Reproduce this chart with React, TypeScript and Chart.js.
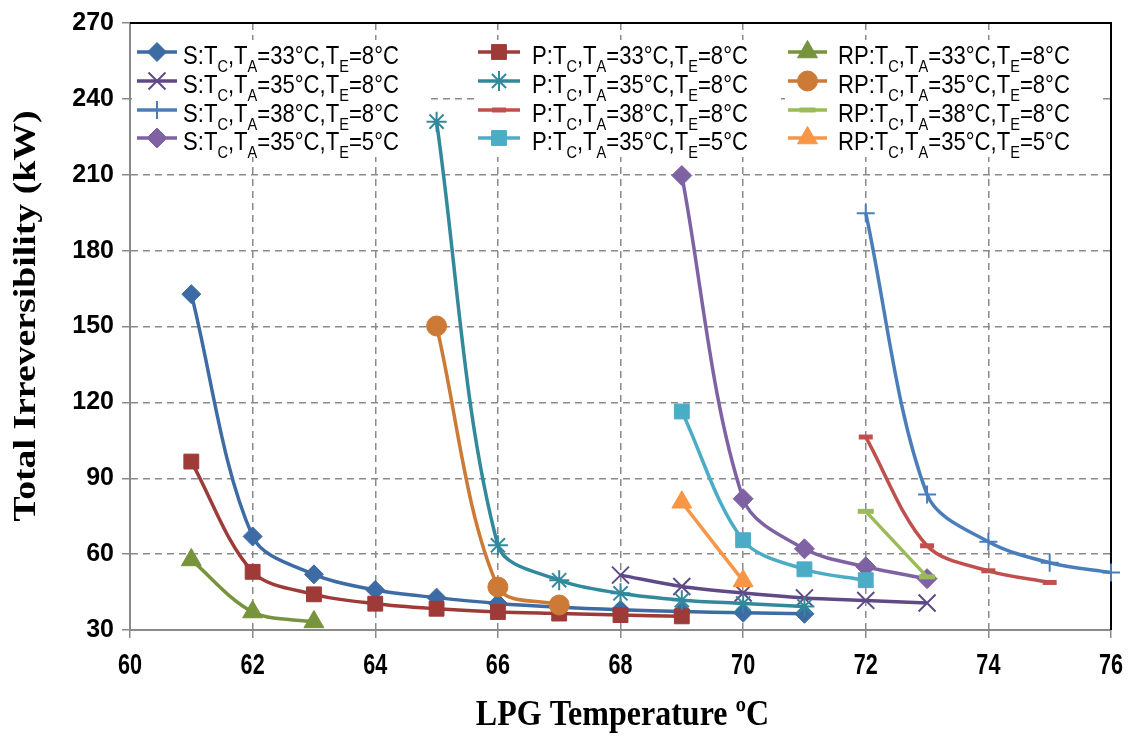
import React, { useEffect, useRef } from "react";
import { Chart, registerables } from "chart.js";
import { drawPoint } from "chart.js/helpers";

Chart.register(...registerables);

// ---------- data ----------
const X_TICKS = [60, 62, 64, 66, 68, 70, 72, 74, 76];
const Y_TICKS = [30, 60, 90, 120, 150, 180, 210, 240, 270];

const S33_X = [61, 62, 63, 64, 65, 66, 67, 68, 69, 70, 71];
const S33_Y = [162.8, 67, 52, 45.8, 42.8, 40.5, 39, 38, 37.3, 36.8, 36.4];
const S35_X = [68, 69, 70, 71, 72, 73];
const S35_Y = [51.7, 47.2, 44.6, 42.7, 41.7, 40.7];
const S38_X = [72, 73, 74, 75, 76];
const S38_Y = [194.8, 83.6, 64.9, 56.6, 52.7];
const S35E5_X = [69, 70, 71, 72, 73];
const S35E5_Y = [209.7, 81.9, 62.1, 55, 50.3];

const P33_X = [61, 62, 63, 64, 65, 66, 67, 68, 69];
const P33_Y = [96.6, 53, 44.1, 40.4, 38.4, 37.1, 36.5, 35.9, 35.4];
const P35_X = [65, 66, 67, 68, 69, 70, 71];
const P35_Y = [231, 63.5, 49.7, 44.5, 41.8, 40.5, 39.3];
const P38_X = [72, 73, 74, 75];
const P38_Y = [106.3, 63.3, 53.4, 48.8];
const P35E5_X = [69, 70, 71, 72];
const P35E5_Y = [116.4, 65.5, 54, 49.7];

const RP33_X = [61, 62, 63];
const RP33_Y = [57.7, 37.1, 33.2];
const RP35_X = [65, 66, 67];
const RP35_Y = [150.2, 47, 39.9];
const RP38_X = [72, 73];
const RP38_Y = [76.9, 51];
const RP35E5_X = [69, 70];
const RP35E5_Y = [80.5, 49.4];

const LABELS = [
  "S:T_C,T_A=33°C,T_E=8°C",
  "S:T_C,T_A=35°C,T_E=8°C",
  "S:T_C,T_A=38°C,T_E=8°C",
  "S:T_C,T_A=35°C,T_E=5°C",
  "P:T_C,T_A=33°C,T_E=8°C",
  "P:T_C,T_A=35°C,T_E=8°C",
  "P:T_C,T_A=38°C,T_E=8°C",
  "P:T_C,T_A=35°C,T_E=5°C",
  "RP:T_C,T_A=33°C,T_E=8°C",
  "RP:T_C,T_A=35°C,T_E=8°C",
  "RP:T_C,T_A=38°C,T_E=8°C",
  "RP:T_C,T_A=35°C,T_E=5°C",
];

const X_TITLE = "LPG Temperature ºC";
const Y_TITLE = "Total Irreversibility (kW)";

// ---------- styles ----------
type Style = { color: string; point: any; radius: number; pbw: number };
const STYLES: Style[] = [
  { color: "#3D6BA4", point: "rectRot", radius: 9.5, pbw: 1 },
  { color: "#604A86", point: "crossRot", radius: 12, pbw: 2 },
  { color: "#4A7EBB", point: "cross", radius: 9, pbw: 2 },
  { color: "#7F62A3", point: "rectRot", radius: 10, pbw: 1 },
  { color: "#9E3B39", point: "rect", radius: 10.5, pbw: 1 },
  { color: "#31899C", point: "star", radius: 10, pbw: 2 },
  { color: "#C0504D", point: "line", radius: 7, pbw: 5 },
  { color: "#4BACC6", point: "rect", radius: 10.5, pbw: 1 },
  { color: "#77933C", point: "triangle", radius: 11.5, pbw: 1 },
  { color: "#CC7A35", point: "circle", radius: 10, pbw: 1 },
  { color: "#9BBB59", point: "line", radius: 8, pbw: 5 },
  { color: "#F79646", point: "triangle", radius: 11.5, pbw: 1 },
];

const SERIES_X = [S33_X, S35_X, S38_X, S35E5_X, P33_X, P35_X, P38_X, P35E5_X, RP33_X, RP35_X, RP38_X, RP35E5_X];
const SERIES_Y = [S33_Y, S35_Y, S38_Y, S35E5_Y, P33_Y, P35_Y, P38_Y, P35E5_Y, RP33_Y, RP35_Y, RP38_Y, RP35E5_Y];

const SANS = '"Liberation Sans", Arial, sans-serif';
const SERIF = '"Liberation Serif", "Times New Roman", serif';
const GRID = "#8A8A8A";

function drawRich(ctx: CanvasRenderingContext2D, text: string, x: number, y: number, size: number, family: string, hs: number) {
  const parts: { t: string; sub: boolean }[] = [];
  let buf = "";
  for (let i = 0; i < text.length; i++) {
    if (text[i] === "_") {
      if (buf) parts.push({ t: buf, sub: false });
      buf = "";
      parts.push({ t: text[i + 1], sub: true });
      i++;
    } else buf += text[i];
  }
  if (buf) parts.push({ t: buf, sub: false });
  ctx.save();
  ctx.translate(x, y);
  ctx.scale(hs, 1);
  let cx = 0;
  ctx.textBaseline = "alphabetic";
  ctx.textAlign = "left";
  for (const p of parts) {
    const s = p.sub ? size * 0.66 : size;
    ctx.font = `${s}px ${family}`;
    ctx.fillText(p.t, cx, p.sub ? size * 0.3 : 0);
    cx += ctx.measureText(p.t).width;
  }
  ctx.restore();
}

function drawScaledText(ctx: CanvasRenderingContext2D, text: string, x: number, y: number, font: string, sx: number, sy: number, rot: number) {
  ctx.save();
  ctx.translate(x, y);
  if (rot) ctx.rotate(rot);
  ctx.scale(sx, sy);
  ctx.font = font;
  ctx.fillStyle = "#000";
  ctx.textAlign = "center";
  ctx.textBaseline = "middle";
  ctx.fillText(text, 0, 0);
  ctx.restore();
}

const framePlugin = {
  id: "frame",
  beforeDatasetsDraw(chart: any) {
    const { ctx, chartArea } = chart;
    const { left, right, top, bottom } = chartArea;
    ctx.save();
    ctx.strokeStyle = "#000";
    ctx.lineWidth = 2;
    ctx.beginPath();
    ctx.moveTo(left, top);
    ctx.lineTo(right, top);
    ctx.lineTo(right, bottom);
    ctx.stroke();
    ctx.restore();
  },
};

const textPlugin = {
  id: "axisText",
  afterDraw(chart: any) {
    const ctx: CanvasRenderingContext2D = chart.ctx;
    const xs = chart.scales.x;
    const area = chart.chartArea;
    // x tick labels (condensed)
    X_TICKS.forEach((v) => {
      drawScaledText(ctx, String(v), xs.getPixelForValue(v), 666, `bold 30px ${SANS}`, 0.72, 1, 0);
    });
    // x title
    drawScaledText(ctx, X_TITLE, (area.left + area.right) / 2 + 2, 716, `bold 33px ${SERIF}`, 0.97, 1.1, 0);
    // y title
    drawScaledText(ctx, Y_TITLE, 27, 316, `bold 32px ${SERIF}`, 1.18, 1, -Math.PI / 2);
  },
};

const legendPlugin = {
  id: "customLegend",
  afterDraw(chart: any) {
    const ctx: CanvasRenderingContext2D = chart.ctx;
    const cols = [
      { box: [132, 40, 426, 157], lx0: 137, lx1: 177, tx: 183 },
      { box: [474, 40, 781, 157], lx0: 478, lx1: 520, tx: 532 },
      { box: [785, 40, 1101, 157], lx0: 788, lx1: 827, tx: 838 },
    ];
    const rowY = [52, 81, 110, 138];
    ctx.save();
    cols.forEach((c, ci) => {
      ctx.fillStyle = "#fff";
      ctx.fillRect(c.box[0], c.box[1], c.box[2] - c.box[0], c.box[3] - c.box[1]);
      for (let r = 0; r < 4; r++) {
        const idx = ci * 4 + r;
        const st = STYLES[idx];
        const y = rowY[r];
        ctx.strokeStyle = st.color;
        ctx.lineWidth = 3.5;
        ctx.beginPath();
        ctx.moveTo(c.lx0, y);
        ctx.lineTo(c.lx1, y);
        ctx.stroke();
        ctx.fillStyle = st.color;
        ctx.strokeStyle = st.color;
        ctx.lineWidth = st.pbw;
        drawPoint(ctx, { pointStyle: st.point, radius: st.radius, borderWidth: st.pbw, rotation: 0 } as any, (c.lx0 + c.lx1) / 2, y);
        ctx.fillStyle = "#000";
        drawRich(ctx, LABELS[idx], c.tx, y + 12, 26, SANS, 0.85);
      }
    });
    ctx.restore();
  },
};

export default function App() {
  const ref = useRef<HTMLCanvasElement | null>(null);
  useEffect(() => {
    document.body.style.margin = "0";
    const canvas = ref.current!;
    const datasets = SERIES_X.map((xs, i) => {
      const st = STYLES[i];
      return {
        label: LABELS[i],
        data: xs.map((x, j) => ({ x, y: SERIES_Y[i][j] })),
        borderColor: st.color,
        backgroundColor: st.color,
        borderWidth: 3.5,
        pointStyle: st.point,
        pointRadius: st.radius,
        pointBorderWidth: st.pbw,
        pointBackgroundColor: st.color,
        pointBorderColor: st.color,
        tension: 0.33,
        fill: false,
        clip: false as any,
        order: -i,
      };
    });
    const chart = new Chart(canvas, {
      type: "line",
      data: { datasets },
      plugins: [framePlugin, textPlugin, legendPlugin],
      options: {
        animation: false,
        responsive: false,
        devicePixelRatio: 1,
        layout: { padding: { top: 21, right: 26, left: 0, bottom: 0 } },
        plugins: { legend: { display: false }, tooltip: { enabled: false } },
        scales: {
          x: {
            type: "linear",
            min: 60,
            max: 76,
            afterBuildTicks: (s: any) => {
              s.ticks = X_TICKS.map((v) => ({ value: v }));
            },
            afterFit: (s: any) => {
              s.height = 108;
            },
            ticks: { display: false },
            grid: { color: GRID, lineWidth: 1.5, tickLength: 8, tickColor: GRID, tickWidth: 1.5, tickBorderDash: [] },
            border: { display: true, color: GRID, width: 2, dash: [7, 5] },
          },
          y: {
            type: "linear",
            min: 30,
            max: 270,
            afterBuildTicks: (s: any) => {
              s.ticks = Y_TICKS.map((v) => ({ value: v }));
            },
            afterFit: (s: any) => {
              s.width = 130;
            },
            ticks: {
              color: "#000",
              padding: 8,
              autoSkip: false,
              font: { family: SANS, size: 25, weight: "bold" },
            },
            grid: { color: GRID, lineWidth: 1.5, tickLength: 8, tickColor: GRID, tickWidth: 1.5, tickBorderDash: [] },
            border: { display: true, color: GRID, width: 2, dash: [7, 5] },
          },
        },
      } as any,
    });
    return () => chart.destroy();
  }, []);
  return <canvas ref={ref} width={1137} height={738} style={{ display: "block" }} />;
}
